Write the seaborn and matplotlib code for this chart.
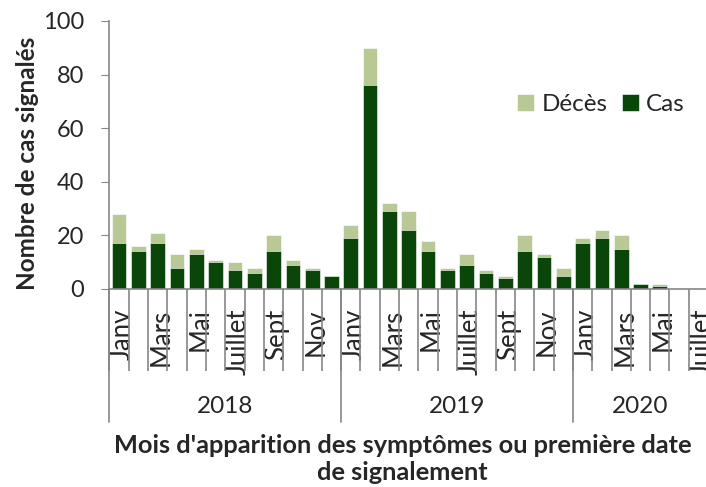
import numpy as np
import pandas as pd
import matplotlib
matplotlib.use("Agg")
import matplotlib.pyplot as plt
import matplotlib.transforms as mtransforms
import seaborn as sns

# monthly data, Jan 2018 -> Jul 2020
years = ['2018', '2019', '2020']
months_per_year = [12, 12, 7]
month_names = ['Janv', '', 'Mars', '', 'Mai', '', 'Juillet', '', 'Sept', '', 'Nov', '']
cas = [17, 14, 17, 8, 13, 10, 7, 6, 14, 9, 7, 5,
       19, 76, 29, 22, 14, 7, 9, 6, 4, 14, 12, 5,
       17, 19, 15, 2, 1, 0, 0]
deces = [11, 2, 4, 5, 2, 1, 3, 2, 6, 2, 1, 0,
         5, 14, 3, 7, 4, 1, 4, 1, 1, 6, 1, 3,
         2, 3, 5, 0, 1, 0, 0]

col_cas = '#005000'
col_deces = '#BBD28C'
grey = '#868686'

# build table
keys, labels = [], []
for y, n in zip(years, months_per_year):
    for m in range(n):
        keys.append(f'{y}-{m + 1:02d}')
        labels.append(month_names[m])
df = pd.DataFrame({'mois': keys, 'cas': cas, 'deces': deces})
df['total'] = df['cas'] + df['deces']

sns.set_style('white')
plt.rcParams['font.family'] = ['Lato', 'DejaVu Sans']

fig = plt.figure(figsize=(7.06, 4.87), dpi=100)
ax = fig.add_axes([0.155, 0.4066, 0.848, 0.5504])

sns.barplot(data=df, x='mois', y='total', order=keys, color=col_deces,
            width=0.76, edgecolor='white', linewidth=0.4, label='Décès', ax=ax)
sns.barplot(data=df, x='mois', y='cas', order=keys, color=col_cas,
            width=0.76, edgecolor='white', linewidth=0.4, label='Cas', ax=ax)

ax.set_ylim(0, 100)
ax.set_xlim(-0.5, len(keys) - 0.5)
ax.set_yticks(np.arange(0, 101, 20))
ax.tick_params(axis='y', labelsize=17, length=6, color=grey, pad=12, left=True)

# month labels at category centres, boundaries as long ticks
ax.set_xticks(range(len(keys)))
ax.set_xticklabels(labels, rotation=90, fontsize=18.5)
ax.tick_params(axis='x', which='major', length=0, pad=14)
shift = mtransforms.ScaledTranslation(3.5 / 100, 0, fig.dpi_scale_trans)
for lab in ax.get_xticklabels():
    lab.set_transform(lab.get_transform() + shift)
ax.set_xticks(np.arange(-0.5, len(keys)), minor=True)
ax.tick_params(axis='x', which='minor', length=59, width=1.2, color=grey, bottom=True)

for s in ['top', 'right']:
    ax.spines[s].set_visible(False)
for s in ['left', 'bottom']:
    ax.spines[s].set_color(grey)
    ax.spines[s].set_linewidth(1.2)

# year level of the axis
start = 0
for y, n in zip(years, months_per_year):
    ax.axvline(start - 0.5, ymin=-0.496, ymax=0, color=grey, lw=1.2, clip_on=False)
    ax.text(start + n / 2 - 0.5, -0.44, y, transform=ax.get_xaxis_transform(),
            ha='center', va='center', fontsize=17.5)
    start += n
ax.axvline(start - 0.5, ymin=-0.496, ymax=0, color=grey, lw=1.2, clip_on=False)

ax.set_xlabel("Mois d'apparition des symptômes ou première date\nde signalement",
              fontsize=18.3, fontweight='bold', linespacing=1.2)
ax.xaxis.set_label_coords(0.49, -0.54)
ax.set_ylabel('Nombre de cas signalés', fontsize=17.5, fontweight='bold')
ax.yaxis.set_label_coords(-0.118, 0.47)

ax.legend(loc='center right', bbox_to_anchor=(0.99, 0.687), ncol=2, frameon=False,
          fontsize=17.5, handlelength=0.7, handleheight=0.7, handletextpad=0.3,
          columnspacing=0.6, borderpad=0.2)

fig.savefig('out.png', dpi=100)
